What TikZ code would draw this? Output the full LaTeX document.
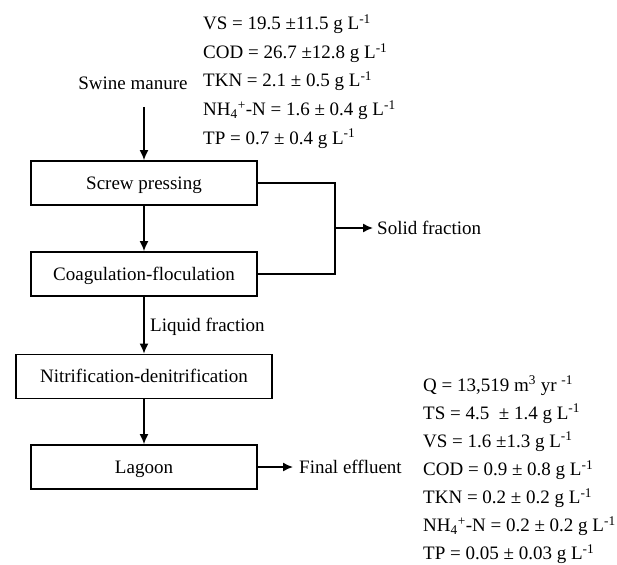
\documentclass[tikz,border=0pt]{standalone}
\usepackage{fontspec}
\setmainfont{Liberation Serif}
\usetikzlibrary{arrows.meta}
\newcommand{\gL}{g L\textsuperscript{-1}}
\newcommand{\nhf}{NH\textsubscript{4}\textsuperscript{+}-N}
\begin{document}
\begin{tikzpicture}[x=1pt,y=-1pt,
  font=\fontsize{19}{23}\selectfont,
  stage/.style={draw,line width=1.8pt,minimum height=44pt,inner sep=0pt,
    text height=12.6pt,text depth=0pt},
  flow/.style={line width=1.5pt,-{Latex[length=10pt,width=9pt]}},
  link/.style={line width=1.5pt},
  lbl/.style={inner sep=0pt,anchor=base west},
  mid/.style={inner sep=0pt,anchor=base}]
\useasboundingbox (0,0) rectangle (617,564);

% process stages
\node[stage,minimum width=226pt] (screw) at (144,183) {Screw pressing};
\node[stage,minimum width=226pt] (coag)  at (144,274) {Coagulation-floculation};
\node[stage,minimum width=256pt] (nitr)  at (144,376.5) {Nitrification-denitrification};
\node[stage,minimum width=226pt] (lag)   at (144,467) {Lagoon};

% inflow
\node[mid] (swine) at (133,90) {Swine manure};
\coordinate (in) at (144,107);
\draw[flow] (in) -- (screw.north);

% raw manure characteristics
\node[lbl] (r1) at (203,30)    {VS = 19.5 ±11.5 \gL};
\node[lbl] (r2) at (203,58.5)  {COD = 26.7 ±12.8 \gL};
\node[lbl] (r3) at (203,87)    {TKN = 2.1 ± 0.5 \gL};
\node[lbl] (r4) at (203,115.5) {\nhf{} = 1.6 ± 0.4 \gL};
\node[lbl] (r5) at (203,144)   {TP = 0.7 ± 0.4 \gL};

% main line
\draw[flow] (screw.south) -- (coag.north);
\draw[flow] (coag.south) -- (nitr.north);
\draw[flow] (nitr.south) -- (lag.north);
\node[lbl] (liq) at (150,331) {Liquid fraction};

% solid fraction branch
\coordinate (j) at (335,228);
\node[lbl] (solid) at (377,234) {Solid fraction};
\draw[link] (screw.east) -- (screw.east -| j) -- (coag.east -| j) -- (coag.east);
\draw[flow,shorten >=4pt] (j) -- (solid.west |- j);

% outflow
\node[lbl] (fin) at (299,473) {Final effluent};
\draw[flow,shorten >=6pt] (lag.east) -- (fin.west |- lag.east);

% effluent characteristics
\node[lbl] (e1) at (423,391)   {Q = 13,519 m\textsuperscript{3} yr \textsuperscript{-1}};
\node[lbl] (e2) at (423,419.1) {TS = 4.5 \ ± 1.4 \gL};
\node[lbl] (e3) at (423,447.2) {VS = 1.6 ±1.3 \gL};
\node[lbl] (e4) at (423,475.3) {COD = 0.9 ± 0.8 \gL};
\node[lbl] (e5) at (423,503.4) {TKN = 0.2 ± 0.2 \gL};
\node[lbl] (e6) at (423,531.5) {\nhf{} = 0.2 ± 0.2 \gL};
\node[lbl] (e7) at (423,559.6) {TP = 0.05 ± 0.03 \gL};
\end{tikzpicture}
\end{document}
